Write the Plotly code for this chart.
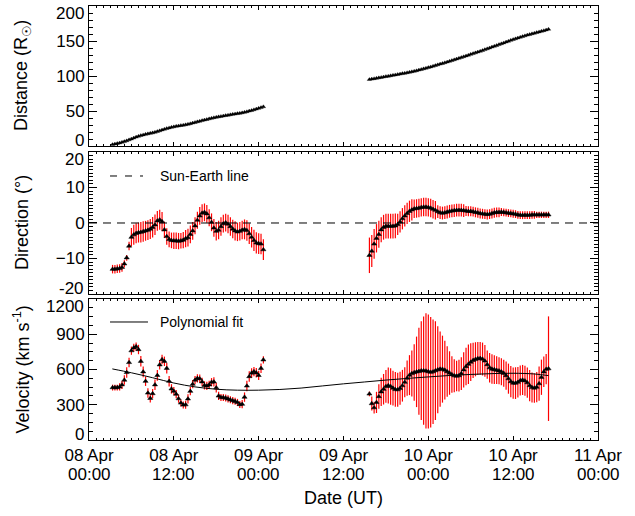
import pandas as pd
import plotly.graph_objects as go
from plotly.subplots import make_subplots

# ---- data -----------------------------------------------------------------
# 20-minute sampling grid for the two tracked intervals
t1 = pd.date_range("2010-04-08 03:20", periods=65, freq="20min")
t2 = pd.date_range("2010-04-09 15:40", periods=77, freq="20min")

# elongation-derived distance (solar radii)
dist1 = [2.0, 2.8, 3.6, 4.4, 5.3, 6.3, 7.5, 8.8, 10.1, 11.4,
         12.7, 13.9, 15.0, 15.9, 16.7, 17.4, 18.1, 18.8, 19.7, 20.7,
         21.8, 22.9, 24.0, 25.0, 25.9, 26.7, 27.4, 28.1, 28.7, 29.3,
         29.8, 30.4, 31.1, 31.9, 32.8, 33.7, 34.6, 35.5, 36.3, 37.1,
         37.9, 38.8, 39.6, 40.4, 41.1, 41.7, 42.3, 42.9, 43.5, 44.1,
         44.7, 45.2, 45.8, 46.3, 46.8, 47.4, 48.1, 49.0, 49.9, 50.8,
         51.8, 52.8, 53.8, 54.9, 56.1]
dist2 = [95.0, 95.6, 96.2, 96.8, 97.4, 98.0, 98.6, 99.2, 99.8, 100.4,
         101.0, 101.6, 102.2, 102.8, 103.4, 104.0, 104.7, 105.4, 106.1, 106.8,
         107.6, 108.5, 109.4, 110.3, 111.2, 112.1, 113.0, 114.0, 115.0, 116.0,
         117.0, 118.0, 119.0, 120.0, 121.0, 122.1, 123.2, 124.3, 125.4, 126.5,
         127.6, 128.7, 129.8, 130.9, 132.0, 133.1, 134.2, 135.3, 136.5, 137.7,
         138.9, 140.1, 141.3, 142.5, 143.7, 144.9, 146.1, 147.3, 148.5, 149.7,
         150.9, 152.1, 153.2, 154.3, 155.4, 156.4, 157.4, 158.4, 159.4, 160.3,
         161.2, 162.1, 163.0, 163.9, 164.8, 165.8, 166.8]

# propagation direction relative to the Sun-Earth line (degrees)
dir1 = [-13.0, -13.0, -12.9, -12.8, -12.5, -11.5, -9.8, -6.5, -4.0, -3.3,
        -2.9, -2.7, -2.6, -2.4, -2.2, -2.0, -1.7, -1.2, -0.5, 0.6,
        0.9, 0.4, -1.9, -3.8, -4.6, -4.9, -5.0, -5.0, -5.1, -5.0,
        -4.8, -4.4, -4.1, -3.2, -2.2, -0.8, 0.8, 2.0, 2.8, 3.0,
        2.6, 1.5, 0.2, -1.4, -2.3, -2.0, -1.0, -0.2, 0.1, -0.3,
        -1.0, -1.7, -2.2, -2.5, -2.3, -2.0, -1.8, -2.1, -3.0, -4.0,
        -4.9, -5.6, -5.8, -5.9, -7.5]
dir1_err = [1.2, 1.2, 1.2, 1.2, 1.2, 1.0, 0.8, 1.2, 2.6, 2.8,
            2.8, 2.8, 2.9, 2.9, 2.8, 2.8, 2.8, 2.9, 2.9, 2.8,
            2.8, 2.7, 2.3, 2.3, 2.2, 2.2, 2.3, 2.3, 2.3, 2.2,
            2.3, 2.4, 2.5, 2.5, 2.5, 2.4, 2.4, 2.5, 2.5, 2.5,
            2.5, 2.4, 2.5, 2.5, 2.6, 2.6, 2.6, 2.5, 2.5, 2.6,
            2.6, 2.6, 2.7, 2.6, 2.6, 2.6, 2.8, 2.9, 2.9, 2.9,
            3.0, 3.0, 2.9, 2.9, 2.9]
dir2 = [-9.1, -7.9, -5.9, -4.3, -3.2, -1.9, -1.2, -0.9, -0.9, -0.9,
        -0.9, -0.8, -0.4, 0.3, 1.2, 2.0, 2.7, 3.3, 3.7, 4.0,
        4.1, 4.2, 4.4, 4.5, 4.5, 4.4, 4.2, 3.9, 3.6, 3.2,
        2.9, 2.8, 2.9, 3.1, 3.3, 3.4, 3.5, 3.6, 3.6, 3.6,
        3.5, 3.4, 3.3, 3.3, 3.2, 3.0, 2.9, 2.7, 2.6, 2.5,
        2.4, 2.5, 2.7, 2.9, 3.0, 3.0, 3.1, 3.0, 2.9, 2.8,
        2.7, 2.6, 2.5, 2.3, 2.2, 2.2, 2.2, 2.2, 2.2, 2.3,
        2.3, 2.3, 2.3, 2.3, 2.3, 2.3, 2.3]
dir2_err = [5.0, 4.5, 4.2, 4.0, 3.8, 3.5, 3.5, 3.5, 3.5, 3.5,
            3.5, 3.5, 3.0, 3.0, 3.0, 3.0, 3.0, 3.0, 3.0, 2.6,
            2.6, 2.6, 2.6, 2.6, 2.6, 2.6, 2.6, 2.6, 2.6, 1.8,
            1.8, 1.8, 1.8, 1.8, 1.8, 1.8, 1.8, 1.8, 1.8, 1.8,
            1.8, 1.4, 1.4, 1.4, 1.4, 1.4, 1.4, 1.4, 1.4, 1.4,
            1.4, 1.4, 1.4, 1.4, 1.4, 1.4, 1.1, 1.1, 1.1, 1.1,
            1.1, 1.1, 1.1, 1.1, 1.1, 1.1, 1.1, 1.1, 1.1, 1.1,
            1.1, 0.9, 0.9, 0.9, 0.9, 0.9, 0.9]

# speed (km/s)
vel1 = [446, 446, 446, 452, 470, 510, 575, 660, 760, 785,
        795, 770, 670, 580, 500, 400, 355, 395, 470, 550,
        640, 685, 670, 610, 500, 435, 415, 390, 352, 315,
        298, 300, 350, 415, 475, 510, 525, 522, 495, 465,
        460, 470, 492, 495, 445, 375, 362, 362, 357, 350,
        342, 335, 329, 320, 302, 305, 365, 460, 540, 570,
        582, 572, 550, 610, 682]
vel1_err = [25, 25, 25, 30, 35, 40, 45, 40, 35, 35,
            35, 40, 45, 45, 40, 40, 35, 40, 45, 45,
            40, 40, 40, 45, 45, 40, 35, 35, 35, 30,
            30, 35, 40, 35, 35, 35, 35, 35, 35, 35,
            35, 35, 35, 40, 40, 35, 30, 30, 30, 30,
            30, 30, 30, 30, 30, 35, 40, 45, 45, 40,
            40, 40, 40, 40, 30]
vel2 = [392, 310, 275, 320, 370, 410, 432, 456, 463, 456,
        442, 430, 428, 440, 462, 492, 526, 552, 566, 574,
        580, 585, 590, 590, 588, 582, 577, 581, 590, 598,
        604, 603, 595, 582, 570, 557, 547, 544, 548, 565,
        597, 625, 645, 663, 678, 687, 693, 695, 689, 673,
        642, 615, 604, 599, 594, 589, 581, 568, 548, 522,
        497, 485, 484, 492, 506, 511, 504, 488, 463, 447,
        442, 450, 480, 534, 580, 603, 607]
vel2_err = [20, 60, 50, 90, 105, 120, 130, 140, 153, 155,
            148, 148, 145, 140, 135, 128, 150, 170, 195, 240,
            300, 370, 420, 460, 490, 485, 470, 445, 420, 370,
            320, 285, 250, 215, 185, 155, 140, 130, 135, 140,
            150, 160, 168, 160, 150, 145, 140, 140, 140, 135,
            120, 125, 125, 122, 118, 115, 115, 115, 120, 128,
            133, 133, 135, 130, 128, 128, 128, 128, 133, 128,
            125, 128, 145, 150, 130, 128, 445]

# polynomial fit to the speed profile (hours after 08 Apr 00:00, km/s)
fit_hours = [3.3, 6, 9, 12, 15, 18, 21, 24, 27, 30, 33,
             36, 39, 42, 45, 48, 51, 54, 57, 60, 63, 65]
fit_vel = [605, 572, 530, 485, 452, 432, 424, 424, 430, 442, 460,
           478, 494, 510, 524, 537, 549, 558, 565, 568, 562, 548]

# axis ticks
tick_times = ["2010-04-08 00:00", "2010-04-08 12:00", "2010-04-09 00:00",
              "2010-04-09 12:00", "2010-04-10 00:00", "2010-04-10 12:00",
              "2010-04-11 00:00"]
tick_day = ["08 Apr", "08 Apr", "09 Apr", "09 Apr", "10 Apr", "10 Apr",
            "11 Apr"]
tick_hour = ["00:00", "12:00", "00:00", "12:00", "00:00", "12:00", "00:00"]
dist_ticks = [0, 50, 100, 150, 200]
dir_ticks = [-20, -10, 0, 10, 20]
vel_ticks = [0, 300, 600, 900, 1200]

t0 = pd.Timestamp("2010-04-08 00:00")
fit_t = [t0 + pd.Timedelta(hours=h) for h in fit_hours]

# ---- figure ---------------------------------------------------------------
FONT = "Liberation Sans, Arial, Helvetica, DejaVu Sans, sans-serif"
TICK_SIZE = 17
fig = make_subplots(rows=3, cols=1, shared_xaxes=False)

marker = dict(symbol="triangle-up", size=4.5, color="black",
              line=dict(color="black", width=0.5))
marker_dist = dict(symbol="triangle-up", size=4, color="black",
                   line=dict(color="black", width=0.3))


def err(vals):
    return dict(type="data", array=vals, visible=True, color="red",
                thickness=1.2, width=0)


for t, d in ((t1, dist1), (t2, dist2)):
    fig.add_trace(go.Scatter(x=t, y=d, mode="markers", marker=marker_dist,
                             showlegend=False), row=1, col=1)

for t, d, e in ((t1, dir1, dir1_err), (t2, dir2, dir2_err)):
    fig.add_trace(go.Scatter(x=t, y=d, mode="markers", marker=marker,
                             error_y=err(e), showlegend=False), row=2, col=1)

for t, v, e in ((t1, vel1, vel1_err), (t2, vel2, vel2_err)):
    fig.add_trace(go.Scatter(x=t, y=v, mode="markers", marker=marker,
                             error_y=err(e), showlegend=False), row=3, col=1)

fig.add_trace(go.Scatter(x=fit_t, y=fit_vel, mode="lines",
                         line=dict(color="black", width=1, shape="spline"),
                         showlegend=False), row=3, col=1)

# frame / tick styling shared by all axes
common = dict(showline=True, linecolor="black", linewidth=1, mirror="allticks",
              ticks="inside", tickcolor="black", tickwidth=1,
              showgrid=False, zeroline=False,
              tickfont=dict(family=FONT, size=TICK_SIZE, color="black"))

xrange_ = [tick_times[0], tick_times[-1]]
for i, ax in enumerate(["xaxis", "xaxis2", "xaxis3"]):
    fig.update_layout({ax: dict(
        common, type="date", range=xrange_, tickmode="array",
        tickvals=tick_times, ticktext=tick_day, ticklen=4,
        showticklabels=(i == 2),
        minor=dict(ticks="inside", ticklen=2, tickcolor="black",
                   tick0=tick_times[0], dtick=3600000, showgrid=False))})

# panel geometry (paper fractions)
dom_top, dom_mid, dom_bot = [0.6774, 1.0], [0.3364, 0.6636], [0.0, 0.3249]


def yax(ticks, domain, minor_step):
    # inner tick labels live on the axis; the end labels are set inside
    return dict(common, range=[ticks[0], ticks[-1]], tickmode="array",
                tickvals=ticks[1:-1], ticklen=8, domain=domain,
                minor=dict(ticks="inside", ticklen=4, dtick=minor_step,
                           tick0=ticks[0], tickcolor="black"))


fig.update_layout(
    yaxis=yax(dist_ticks, dom_top, 10),
    yaxis2=yax(dir_ticks, dom_mid, 1),
    yaxis3=yax(vel_ticks, dom_bot, 75),
)

# end labels of each y axis, nudged inside the panel
for yref, ticks in (("y", dist_ticks), ("y2", dir_ticks), ("y3", vel_ticks)):
    for val, shift, anchor in ((ticks[0], -5, "bottom"),
                               (ticks[-1], 3, "top")):
        fig.add_annotation(text=str(val), xref="paper", yref=yref, x=0, y=val,
                           xanchor="right", yanchor=anchor, xshift=-4,
                           yshift=shift, showarrow=False, borderpad=0,
                           font=dict(family=FONT, size=TICK_SIZE,
                                     color="black"))

# second line of the date tick labels
for tv, hh in zip(tick_times, tick_hour):
    fig.add_annotation(text=hh, xref="x3", yref="paper", x=tv, y=-0.0785,
                       xanchor="center", yanchor="middle", showarrow=False,
                       font=dict(family=FONT, size=TICK_SIZE, color="black"))

# Sun-Earth line
fig.add_shape(type="line", xref="x2 domain", x0=0, x1=1, yref="y2",
              y0=0, y1=0, line=dict(color="black", width=1, dash="8px,6px"))

# in-panel keys
fig.add_shape(type="line", xref="paper", yref="paper", x0=0.0413, x1=0.1061,
              y0=0.6083, y1=0.6083,
              line=dict(color="black", width=1, dash="7px,8px"))
fig.add_shape(type="line", xref="paper", yref="paper", x0=0.0413, x1=0.1159,
              y0=0.2719, y1=0.2719, line=dict(color="black", width=1))
fig.add_annotation(text="Sun-Earth line", xref="paper", yref="paper",
                   x=0.1356, y=0.6083, xanchor="left", yanchor="middle",
                   showarrow=False, font=dict(family=FONT, size=14))
fig.add_annotation(text="Polynomial fit", xref="paper", yref="paper",
                   x=0.1356, y=0.2719, xanchor="left", yanchor="middle",
                   showarrow=False, font=dict(family=FONT, size=14))

# axis titles
title_font = dict(family=FONT, size=18, color="black")
for txt, yc in (("Distance (R<sub>☉</sub>)", 0.8387),
                ("Direction (°)", 0.5),
                ("Velocity (km s<sup>-1</sup>)", 0.1624)):
    fig.add_annotation(text=txt, xref="paper", yref="paper", x=-0.1316, y=yc,
                       textangle=-90, xanchor="center", yanchor="middle",
                       showarrow=False, font=title_font)
fig.add_annotation(text="Date (UT)", xref="paper", yref="paper", x=0.5,
                   y=-0.1336, xanchor="center", yanchor="middle",
                   showarrow=False, font=title_font)

fig.update_layout(width=635, height=516,
                  margin=dict(l=89, r=37, t=6, b=76),
                  plot_bgcolor="white", paper_bgcolor="white",
                  font=dict(family=FONT, color="black"))

fig.write_html("out.html")
